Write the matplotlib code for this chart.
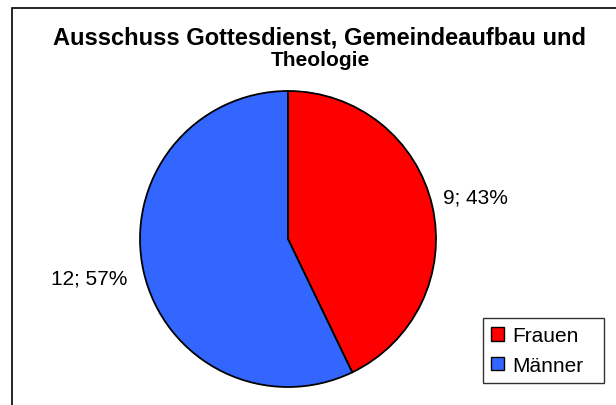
import matplotlib
matplotlib.use("Agg")
import matplotlib.pyplot as plt
from matplotlib.patches import Rectangle, Patch

plt.rcParams['font.family'] = ['Liberation Sans', 'DejaVu Sans']

categories = ["Frauen", "Männer"]
counts = [9, 12]
colors = ["#FF0000", "#3366FF"]
title_main = "Ausschuss Gottesdienst, Gemeindeaufbau und"
title_sub = "Theologie"

W, H = 616, 406
fig = plt.figure(figsize=(W / 100, H / 100), dpi=100)
fig.patch.set_facecolor("white")

# outer chart frame (runs off the right and bottom edge)
fig.patches.append(Rectangle((12 / W, -0.1), 1.2, (H - 9) / H + 0.1,
                             transform=fig.transFigure, fill=False,
                             edgecolor="black", linewidth=1.2))

# pie axes: centre (288, 240) px, radius 148 px
cx, cy, r = 288, 240, 148
ax = fig.add_axes([(cx - r) / W, (H - cy - r) / H, 2 * r / W, 2 * r / H])

total = sum(counts)
labels = [f"{c}; {round(100 * c / total)}%" for c in counts]
wedges, texts = ax.pie(counts, colors=colors, startangle=90, counterclock=False,
                       radius=1.0, labels=labels, labeldistance=1.095,
                       wedgeprops=dict(edgecolor="black", linewidth=1.3),
                       textprops=dict(fontsize=15, color="black"))
# small nudges for the data labels (axes units)
nudges = [(-0.02, 0.04), (-0.02, -0.02)]
for t, (dx, dy) in zip(texts, nudges):
    x, y = t.get_position()
    t.set_position((x + dx, y + dy))
    t.set_verticalalignment("center")
    t.set_clip_on(False)
ax.set_xlim(-1, 1)
ax.set_ylim(-1, 1)
ax.set_aspect("equal")
ax.axis("off")

fig.text(319 / W, 1 - 38 / H, title_main, ha="center", va="center",
         fontsize=17, fontweight="bold")
fig.text(320 / W, 1 - 60.5 / H, title_sub, ha="center", va="center",
         fontsize=15, fontweight="bold")

handles = [Patch(facecolor=c, edgecolor="black", linewidth=1.0) for c in colors]
leg = fig.legend(handles, categories, loc="lower left",
                 bbox_to_anchor=(483 / W, 1 - 384 / H, 121 / W, 72 / H),
                 mode="expand", fontsize=15, frameon=True, fancybox=False,
                 handlelength=0.6, handleheight=0.6, handletextpad=0.4,
                 borderpad=0.4, labelspacing=0.5, borderaxespad=0)
leg.get_frame().set_edgecolor("black")
leg.get_frame().set_linewidth(1.0)

fig.savefig("out.png", dpi=100, facecolor="white")
